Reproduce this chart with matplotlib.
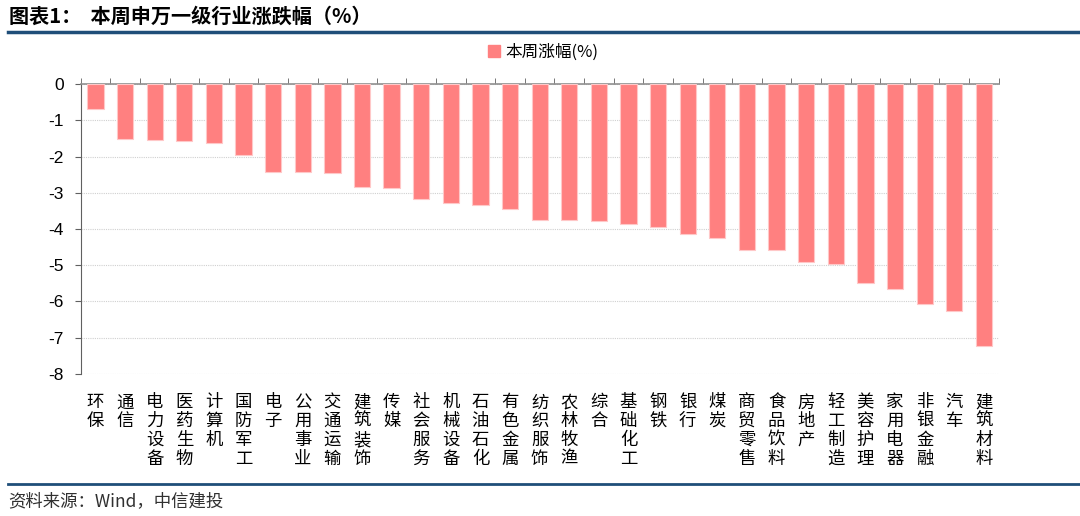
import matplotlib.pyplot as plt
import matplotlib.patches as mpatches
from matplotlib.lines import Line2D

plt.rcParams['font.family'] = ['Noto Sans CJK SC', 'DejaVu Sans']

industries = ['环保', '通信', '电力设备', '医药生物', '计算机', '国防军工', '电子',
              '公用事业', '交通运输', '建筑装饰', '传媒', '社会服务', '机械设备',
              '石油石化', '有色金属', '纺织服饰', '农林牧渔', '综合', '基础化工',
              '钢铁', '银行', '煤炭', '商贸零售', '食品饮料', '房地产', '轻工制造',
              '美容护理', '家用电器', '非银金融', '汽车', '建筑材料']
weekly_change = [-0.68, -1.51, -1.54, -1.57, -1.62, -1.96, -2.42,
                 -2.43, -2.45, -2.83, -2.87, -3.17, -3.29,
                 -3.33, -3.45, -3.75, -3.76, -3.78, -3.87,
                 -3.94, -4.14, -4.26, -4.57, -4.59, -4.91, -4.96,
                 -5.49, -5.65, -6.06, -6.25, -7.23]
y_ticks = [0, -1, -2, -3, -4, -5, -6, -7, -8]

bar_color = '#FF8080'

fig = plt.figure(figsize=(10.8, 5.16), dpi=100)
ax = fig.add_axes([0.0747, 0.2752, 0.85, 0.562])

x = list(range(len(industries)))
ax.bar(x, weekly_change, width=0.55, color=bar_color,
       edgecolor='#FFC8C8', linewidth=0.8, zorder=3)

ax.set_xlim(-0.5, len(industries) - 0.5)
ax.set_ylim(-8, 0)
ax.set_yticks(y_ticks)
ax.set_yticklabels([str(v) for v in y_ticks], family=['Liberation Sans'],
                   fontsize=12.5)
ax.yaxis.grid(True, color='#D0D0D0', linestyle=(0, (1, 1)), linewidth=0.8)

ax.set_xticks(x)
ax.set_xticklabels(['\n'.join(n) for n in industries], fontsize=12.5,
                   linespacing=1.05, va='top')
ax.tick_params(axis='x', which='major', length=0, pad=14)
ax.set_xticks([i - 0.5 for i in range(len(industries) + 1)], minor=True)
ax.tick_params(axis='x', which='minor', bottom=False, top=True,
               length=4, direction='out', color='#606060')
ax.tick_params(axis='y', length=4, direction='out', color='#606060', pad=8)

for s in ['bottom', 'right']:
    ax.spines[s].set_visible(False)
ax.spines['top'].set_color('#909090')
ax.spines['top'].set_linewidth(1.2)
ax.spines['left'].set_color('#606060')

handle = mpatches.Patch(color=bar_color, label='本周涨幅(%)')
fig.legend(handles=[handle], loc='center', bbox_to_anchor=(0.503, 0.899),
           frameon=False, fontsize=12, handlelength=0.7, handleheight=0.7,
           handletextpad=0.3)

# header / footer decoration
fig.text(0.008, 0.968, '图表1：  本周申万一级行业涨跌幅（%）', fontsize=14.5,
         fontweight='bold', va='center', ha='left')
fig.add_artist(Line2D([0.007, 1.0], [0.938, 0.938], color='#1F4E79',
                      linewidth=2.5, transform=fig.transFigure))
fig.add_artist(Line2D([0.007, 1.0], [0.062, 0.062], color='#1F4E79',
                      linewidth=2.0, transform=fig.transFigure))
fig.text(0.008, 0.028, '资料来源：Wind，中信建投', fontsize=12.5,
         style='italic', va='center', ha='left', color='#303030')

fig.savefig('out.png', dpi=100)
